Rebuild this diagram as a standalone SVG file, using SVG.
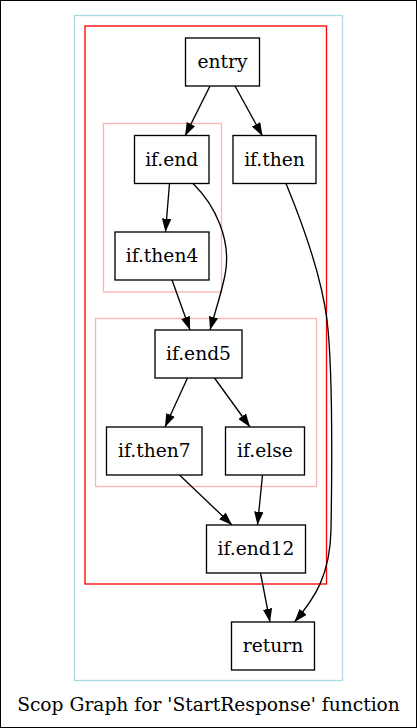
<svg xmlns="http://www.w3.org/2000/svg" width="417" height="728" viewBox="0 0 417 728">
<style>
.node rect{fill:#fff;stroke:#000;stroke-width:1.33}
.node text,.title{font-family:"DejaVu Serif","Liberation Serif",serif;font-size:18.67px;fill:#000;text-anchor:middle}
.edges path{fill:none;stroke:#000;stroke-width:1.33;marker-end:url(#ah)}
.cl{fill:none;stroke-width:1.33}
</style>
<defs>
<marker id="ah" viewBox="0 0 13.3 9.4" refX="13.3" refY="4.7" markerWidth="13.3" markerHeight="9.4" markerUnits="userSpaceOnUse" orient="auto">
<path d="M0,0 L13.3,4.7 L0,9.4 z" fill="#000"/>
</marker>
</defs>
<rect x="0.5" y="0.5" width="416" height="727" fill="#fff" stroke="#000" stroke-width="1"/>
<g id="clusters">
<rect class="cl" x="74.5" y="15.5" width="268" height="665" stroke="#add8e6"/>
<rect class="cl" x="85" y="26" width="241.5" height="558" stroke="#ff0000"/>
<rect class="cl" x="103.5" y="123.5" width="118" height="168.5" stroke="#ffb3b3"/>
<rect class="cl" x="95.5" y="318.5" width="221" height="168" stroke="#ffb3b3"/>
</g>
<g class="edges" id="edges">
<path d="M210,86 L185,136"/>
<path d="M235,86 L262.5,136"/>
<path d="M169.5,183.5 L165.5,232"/>
<path d="M193,183.5 C215,205 232,240 225,275 C221,295 215,312 210,330"/>
<path d="M172,280 L190,330"/>
<path d="M286,183.5 C306,232 322,280 327,320 C333,370 332,470 331,530 C330,575 315,598 294.5,622"/>
<path d="M187.5,378 L165,427"/>
<path d="M214.5,378 L250,427"/>
<path d="M179.5,475 L232,525"/>
<path d="M262.5,475 L257.5,525"/>
<path d="M260.5,573 L270,622"/>
</g>
<g class="node" id="entry"><rect x="185.5" y="38" width="74" height="48"/><text x="222.5" y="68">entry</text></g>
<g class="node" id="if.end"><rect x="134.5" y="135.5" width="74.5" height="48"/><text x="171.7" y="165.5">if.end</text></g>
<g class="node" id="if.then"><rect x="233" y="135.5" width="83" height="48"/><text x="274.5" y="165.5">if.then</text></g>
<g class="node" id="if.then4"><rect x="115" y="232" width="94" height="48"/><text x="162" y="262">if.then4</text></g>
<g class="node" id="if.end5"><rect x="155" y="330" width="87" height="48"/><text x="198.5" y="360">if.end5</text></g>
<g class="node" id="if.then7"><rect x="106.5" y="427" width="95.5" height="48"/><text x="154.3" y="457">if.then7</text></g>
<g class="node" id="if.else"><rect x="225.5" y="427" width="79" height="48"/><text x="265" y="457">if.else</text></g>
<g class="node" id="if.end12"><rect x="206.5" y="525" width="99" height="48"/><text x="256" y="555">if.end12</text></g>
<g class="node" id="return"><rect x="231.5" y="622" width="83" height="48"/><text x="273" y="652">return</text></g>
<text class="title" x="208.5" y="711">Scop Graph for 'StartResponse' function</text>
</svg>
